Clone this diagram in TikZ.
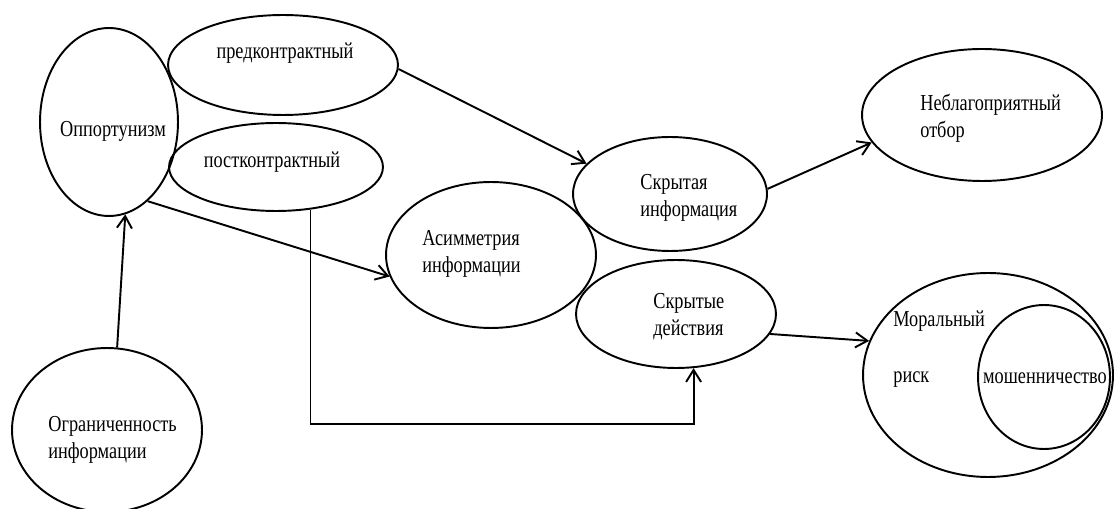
\documentclass[tikz,border=0pt]{standalone}
\usepackage{fontspec}
\setmainfont{Liberation Serif}[FakeStretch=0.8]
\usetikzlibrary{shapes.geometric,arrows.meta}

\begin{document}
\begin{tikzpicture} [x=0.02cm, y=-0.02cm,
                oval/.style={ellipse, draw, line width=1.1pt, inner sep=0pt},
                lbl/.style={align=left, inner sep=0pt, font=\fontsize{13}{15.3}\selectfont}]
                \tikzset{link/.style={draw, line width=1.1pt, -{Straight Barb[length=2.4mm,width=3mm]}}}
                \useasboundingbox (0,0) rectangle (1115,509);
                % ellipses
                \node[oval, minimum width=2.76cm, minimum height=3.76cm] (opp) at (109,122) {};
                \node[oval, minimum width=4.6cm, minimum height=2.0cm] (pre) at (283,65) {};
                \node[oval, minimum width=4.28cm, minimum height=1.76cm] (post) at (276,167) {};
                \node[oval, minimum width=3.88cm, minimum height=2.28cm] (hidinf) at (670,194) {};
                \node[oval, minimum width=4.2cm, minimum height=2.92cm] (asym) at (491,255) {};
                \node[oval, minimum width=4.0cm, minimum height=2.16cm] (acts) at (676,314) {};
                \node[oval, minimum width=4.8cm, minimum height=2.64cm] (adverse) at (982,115) {};
                \node[oval, minimum width=5.0cm, minimum height=4.08cm] (moral) at (988,375) {};
                \node[oval, minimum width=2.64cm, minimum height=2.88cm] (fraud) at (1044,377) {};
                \node[oval, minimum width=3.8cm, minimum height=3.28cm] (limit) at (107,430) {};
                \coordinate (base) at (500,424);
                % texts
                \node[lbl] (oppT) at (113,131) {Оппортунизм};
                \node[lbl] (preT) at (285,53) {предконтрактный};
                \node[lbl] (postT) at (272,162) {постконтрактный};
                \node[lbl, anchor=west] (hidinfT) at (640,198) {Скрытая\\информация};
                \node[lbl, anchor=west] (asymT) at (422,254) {Асимметрия\\информации};
                \node[lbl, anchor=west] (actsT) at (653,317) {Скрытые\\действия};
                \node[lbl, anchor=west] (adverseT) at (920,118) {Неблагоприятный\\отбор};
                \node[lbl, anchor=west] (moralT) at (893,349) {Моральный\\[17pt]риск};
                \node[lbl] (fraudT) at (1045,378) {мошенничество};
                \node[lbl, anchor=west] (limitT) at (48,440) {Ограниченность\\информации};
                % arrows
                \draw[link] (limit.83) -- (opp.-80);
                \draw[link] (opp.-64) -- (asym.192);
                \draw[link] (pre.-2.5) -- (hidinf.160);
                \draw[link] (hidinf.3.6) -- (adverse.194.4);
                \draw[link] (acts.-12.7) -- (moral.164);
                \draw[link] (post.-51) -- (post.-51 |- base) -| (acts.-72);
            \end{tikzpicture}
\end{document}
